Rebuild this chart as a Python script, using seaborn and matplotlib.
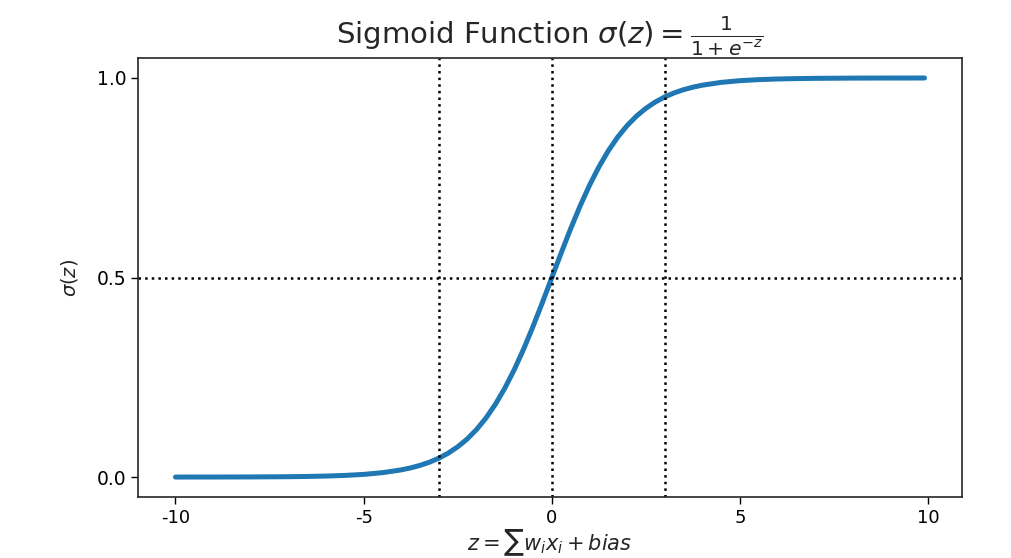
import matplotlib
matplotlib.use("Agg")
import matplotlib.pyplot as plt
import seaborn as sns
import pandas as pd

z_values = [-10, -9.5, -9, -8.5, -8, -7.5, -7, -6.5, -6, -5.5, -5, -4.5, -4,
            -3.75, -3.5, -3.25, -3, -2.75, -2.5, -2.25, -2, -1.75, -1.5, -1.25,
            -1, -0.75, -0.5, -0.25, 0, 0.25, 0.5, 0.75, 1, 1.25, 1.5, 1.75, 2,
            2.25, 2.5, 2.75, 3, 3.25, 3.5, 3.75, 4, 4.5, 5, 5.5, 6, 6.5, 7,
            7.5, 8, 8.5, 9, 9.5, 9.9]
sigma_values = [0.0000, 0.0001, 0.0001, 0.0002, 0.0003, 0.0006, 0.0009, 0.0015,
                0.0025, 0.0041, 0.0067, 0.0110, 0.0180, 0.0230, 0.0293, 0.0373,
                0.0474, 0.0601, 0.0759, 0.0953, 0.1192, 0.1480, 0.1824, 0.2227,
                0.2689, 0.3208, 0.3775, 0.4378, 0.5000, 0.5622, 0.6225, 0.6792,
                0.7311, 0.7773, 0.8176, 0.8520, 0.8808, 0.9047, 0.9241, 0.9399,
                0.9526, 0.9627, 0.9707, 0.9770, 0.9820, 0.9890, 0.9933, 0.9959,
                0.9975, 0.9985, 0.9991, 0.9994, 0.9997, 0.9998, 0.9999, 0.9999,
                1.0000]
vlines_z = [-3, 0, 3]
hline_sigma = [0.5]
x_ticks = [-10, -5, 0, 5, 10]
y_ticks = [0.0, 0.5, 1.0]

sns.set_style("ticks")
plt.rcParams['font.family'] = ['DejaVu Sans']
plt.rcParams['axes.unicode_minus'] = False
plt.rcParams['mathtext.fontset'] = 'dejavusans'

fig = plt.figure(figsize=(10.11, 5.58), dpi=100)
ax = fig.add_axes([0.1365, 0.1093, 0.815, 0.7867])

df = pd.DataFrame({"z": z_values, "sigma": sigma_values})
sns.lineplot(data=df, x="z", y="sigma", ax=ax, color="#1f77b4", linewidth=3.6)

for v in vlines_z:
    ax.axvline(v, color="black", linestyle=":", linewidth=1.8)
for h in hline_sigma:
    ax.axhline(h, color="black", linestyle=":", linewidth=1.8)

ax.set_xticks(x_ticks)
ax.set_yticks(y_ticks)
ax.set_xticklabels([str(t) for t in x_ticks])
ax.set_yticklabels([f"{t:.1f}" for t in y_ticks])
ax.tick_params(axis="x", labelsize=13, colors="black", length=5, width=1)
ax.tick_params(axis="y", labelsize=13.5, colors="black", length=5, width=1)
for s in ax.spines.values():
    s.set_color("#262626")
    s.set_linewidth(1.2)

ax.set_xlim(-10.995, 10.895)
ax.set_ylim(-0.05, 1.05)

ax.set_title(r"Sigmoid Function $\sigma(z) = \frac{1}{1 + e^{-z}}$", fontsize=21, pad=2)
ax.set_xlabel(r"$z = \sum w_i x_i + bias$", fontsize=15, labelpad=0)
ax.set_ylabel(r"$\sigma(z)$", fontsize=14, labelpad=12)

fig.savefig("out.png", dpi=100)
